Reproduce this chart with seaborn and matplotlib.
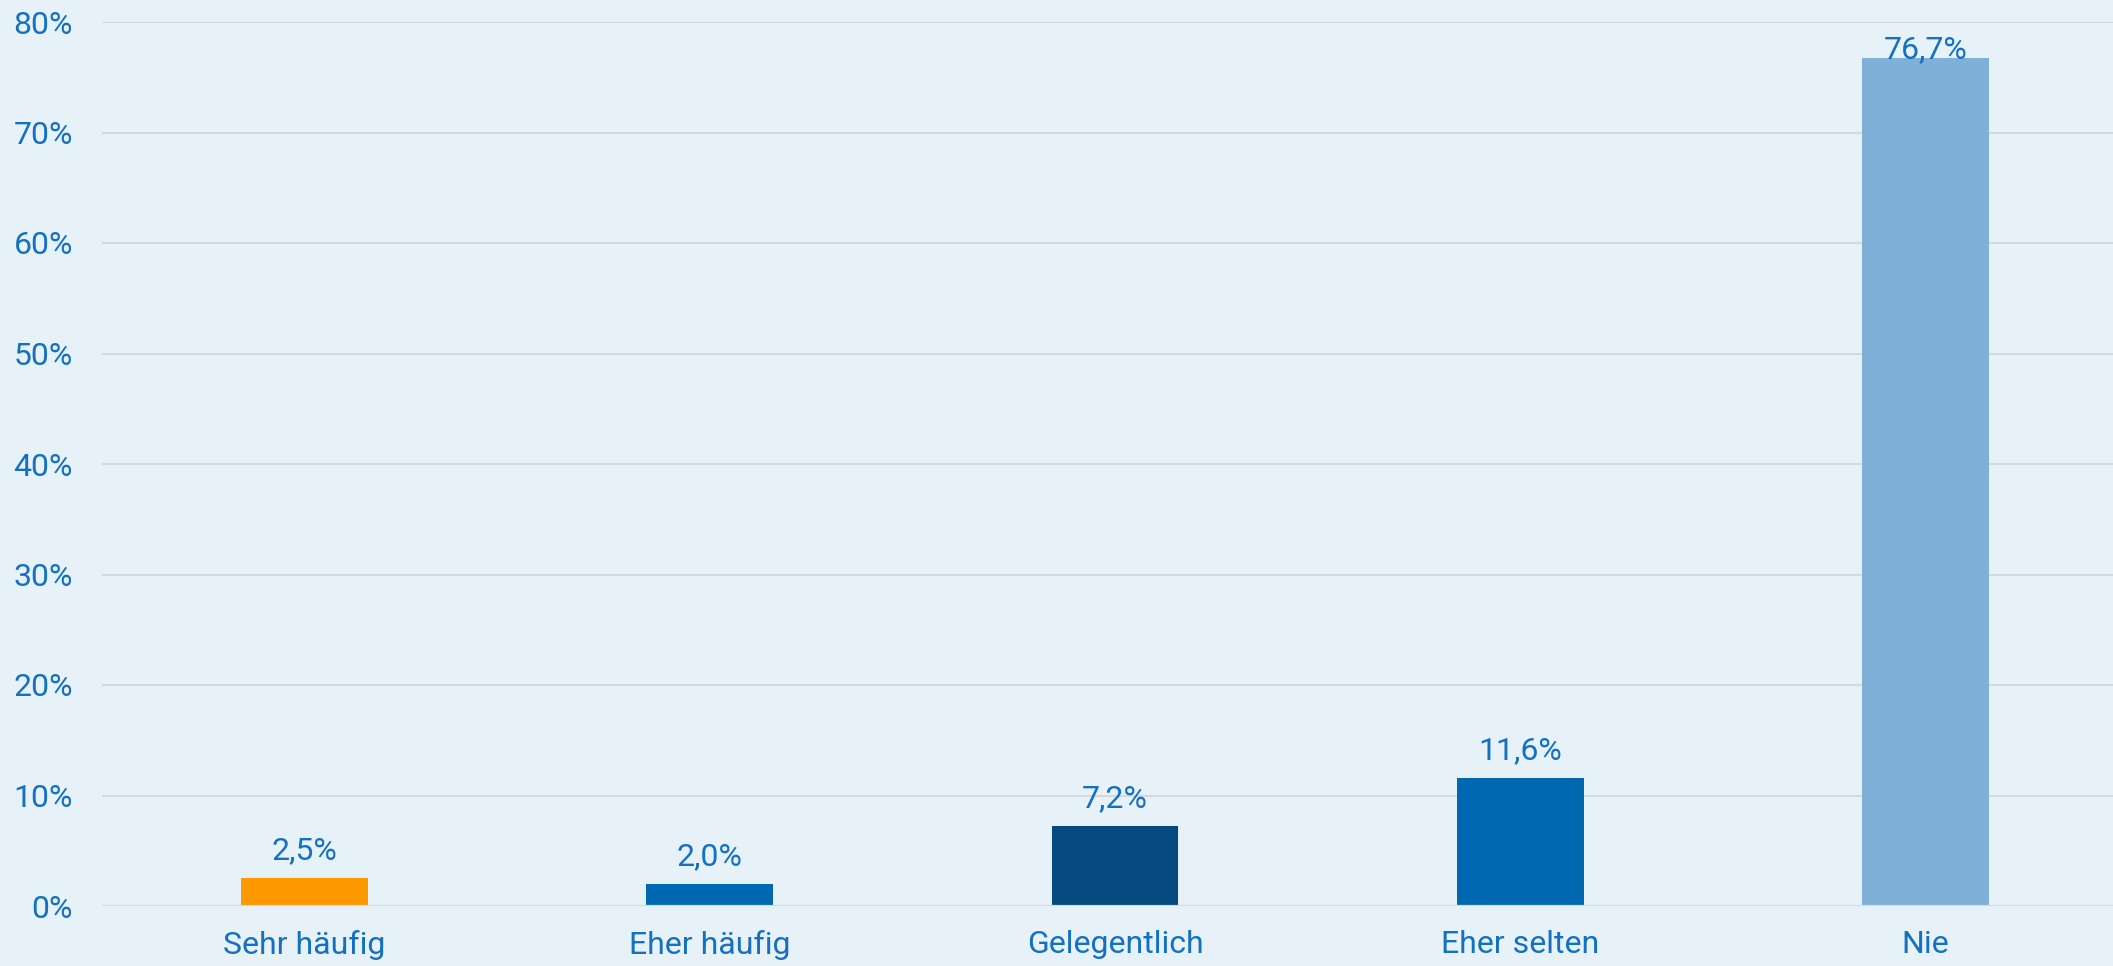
import numpy as np
import pandas as pd
import matplotlib
matplotlib.use("Agg")
import matplotlib.pyplot as plt
import seaborn as sns

# Data
categories = ["Sehr häufig", "Eher häufig", "Gelegentlich", "Eher selten", "Nie"]
values = [2.5, 2.0, 7.2, 11.6, 76.7]
bar_colors = ["#ff9900", "#0067b1", "#054a7e", "#0067b1", "#7fb1d8"]
y_ticks = [0, 10, 20, 30, 40, 50, 60, 70, 80]

BG = "#e6f1f8"
TXT = "#1470c0"

sns.set_theme(style="white")
plt.rcParams["font.family"] = ["Roboto", "DejaVu Sans"]

df = pd.DataFrame({"Kategorie": categories, "Anteil": values})

fig = plt.figure(figsize=(21.13, 9.66), dpi=100, facecolor=BG)
ax = fig.add_axes([102 / 2113, 60 / 966, 2026 / 2113, 884 / 966])
ax.set_facecolor(BG)

sns.barplot(data=df, x="Kategorie", y="Anteil", hue="Kategorie",
            palette=bar_colors, legend=False, width=0.313,
            saturation=1, linewidth=0, ax=ax, zorder=2)

ax.set_ylim(0, 80)
ax.set_yticks(y_ticks)
ax.set_yticklabels([f"{t}%" for t in y_ticks])
ax.set_axisbelow(True)
ax.grid(axis="y", color="#d6d9dc", linewidth=1.4)
# baseline drawn over the bar bottoms
ax.axhline(0, color="#d6d9dc", linewidth=1.6, zorder=3)
for s in ax.spines.values():
    s.set_visible(False)

ax.tick_params(axis="y", length=0, pad=21, labelsize=23, labelcolor=TXT)
ax.tick_params(axis="x", length=0, pad=17, labelsize=23, labelcolor=TXT)
ax.set_xlabel("")
ax.set_ylabel("")

# value labels, kept inside the plot area
for i, v in enumerate(values):
    y = min(v + 1.72, ax.get_ylim()[1] - 3.3)
    ax.text(i, y, f"{v:.1f}%".replace(".", ","), ha="center", va="baseline",
            fontsize=23, color=TXT, zorder=4)

fig.savefig("out.png", dpi=100, facecolor=BG)
